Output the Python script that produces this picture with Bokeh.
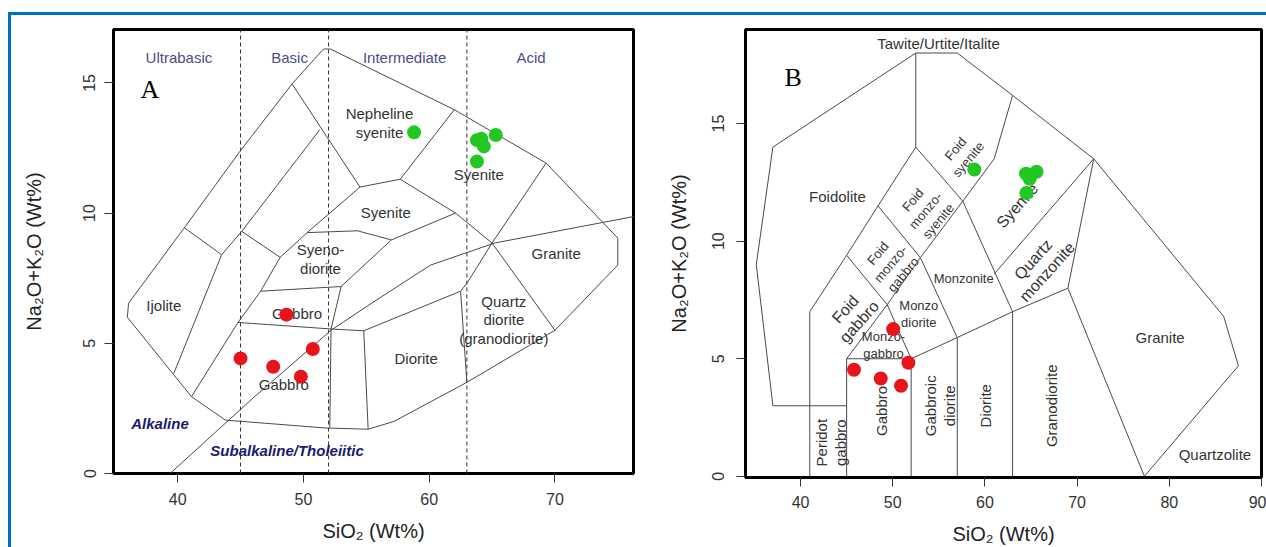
import math
from bokeh.plotting import figure
from bokeh.layouts import row, column
from bokeh.models import Range1d, FixedTicker, Spacer, ColumnDataSource
from bokeh.core.properties import value
from bokeh.embed import file_html
from bokeh.resources import INLINE

# ---------------- sample data ----------------
a_red_sio2 = [45.0, 47.6, 48.65, 49.8, 50.75]
a_red_alk = [4.42, 4.1, 6.1, 3.72, 4.78]
a_green_sio2 = [58.8, 63.8, 64.15, 64.35, 65.3, 63.8]
a_green_alk = [13.1, 12.8, 12.85, 12.56, 13.0, 11.98]

b_red_sio2 = [45.8, 48.7, 50.05, 50.9, 51.7]
b_red_alk = [4.53, 4.16, 6.26, 3.85, 4.83]
b_green_sio2 = [58.85, 64.45, 64.9, 65.6, 64.85, 64.5]
b_green_alk = [13.05, 12.87, 12.8, 12.95, 12.65, 12.05]

x_ticks_a = [40, 50, 60, 70]
x_ticks_b = [40, 50, 60, 70, 80, 90]
y_ticks = [0, 5, 10, 15]

# ---------------- field boundaries, panel A (Cox et al. 1979 / Wilson 1989) ----------------
a_fields = [
    [(75.0, 8.0), (75.0, 9.04), (69.3, 11.92), (62.0, 13.97), (52.15, 16.3), (51.6, 16.3),
     (49.1, 14.96), (45.0, 12.4), (40.6, 9.48), (36.1, 6.54), (36.0, 6.0), (41.1, 2.95),
     (43.8, 2.05), (51.7, 1.75), (55.15, 1.7), (57.2, 2.0), (63.0, 3.5), (70.0, 5.5), (75.0, 8.0)],
    [(49.1, 14.96), (54.5, 11.0)],
    [(54.5, 11.0), (57.7, 11.3), (62.0, 13.97)],
    [(57.7, 11.3), (62.1, 10.0), (65.0, 8.85)],
    [(69.3, 11.92), (65.0, 8.85), (63.0, 7.3)],
    [(65.0, 8.85), (70.0, 5.5)],
    [(63.0, 3.5), (62.5, 7.0), (63.0, 7.3)],
    [(54.8, 5.48), (62.5, 7.0)],
    [(54.8, 5.48), (55.15, 1.7)],
    [(44.8, 5.8), (52.2, 5.55), (54.8, 5.48)],
    [(53.0, 7.18), (52.2, 5.55), (52.1, 1.78)],
    [(50.3, 9.25), (54.3, 9.32), (57.0, 8.97), (62.1, 10.0)],
    [(57.0, 8.97), (53.0, 7.18)],
    [(46.6, 7.0), (53.0, 7.18)],
    [(54.5, 11.0), (50.3, 9.25), (48.15, 8.3)],
    [(48.15, 8.3), (46.6, 7.0), (44.8, 5.8), (41.1, 2.95)],
    [(51.3, 13.2), (45.1, 9.3), (43.5, 8.4)],
    [(45.1, 9.3), (48.15, 8.3)],
    [(40.5, 9.45), (43.5, 8.4)],
    [(43.5, 8.4), (39.7, 3.85)],
]
a_alkaline_divide = [(39.4, 0.0), (46.0, 2.9), (52.2, 5.5), (55.3, 6.5), (60.1, 8.0),
                     (65.2, 8.85), (76.3, 9.87)]
a_silica_limits = [45, 52, 63]

a_field_names = ["Nepheline\nsyenite", "Syenite", "Syenite", "Granite", "Syeno-\ndiorite",
                 "Ijolite", "Gabbro", "Gabbro", "Quartz\ndiorite\n(granodiorite)", "Diorite"]
a_field_x = [56.05, 63.95, 56.55, 70.1, 51.36, 38.9, 49.5, 48.44, 65.94, 58.97]
a_field_y = [13.45, 11.47, 10.04, 8.46, 8.23, 6.45, 6.15, 3.4, 5.9, 4.42]

a_class_names = ["Ultrabasic", "Basic", "Intermediate", "Acid"]
a_class_x = [40.1, 48.9, 58.05, 68.1]
a_class_y = [15.96, 15.96, 15.96, 15.96]

a_series_names = ["Alkaline", "Subalkaline/Tholeiitic"]
a_series_x = [38.6, 48.7]
a_series_y = [1.92, 0.9]

# ---------------- field boundaries, panel B (Middlemost 1994) ----------------
b_fields = [
    [(37.0, 3.0), (35.2, 9.0), (37.0, 14.0), (52.5, 18.0), (57.0, 18.0), (63.0, 16.2),
     (71.8, 13.5), (85.9, 6.8), (87.5, 4.7), (77.3, 0.0)],
    [(52.5, 18.0), (52.5, 14.0)],
    [(41.0, 7.0), (45.0, 9.4), (48.4, 11.5), (52.5, 14.0)],
    [(52.5, 14.0), (57.6, 11.7), (63.0, 7.0)],
    [(63.0, 16.2), (61.0, 13.5), (57.6, 11.7), (53.0, 9.3), (49.4, 7.3), (45.0, 5.0)],
    [(48.4, 11.5), (53.0, 9.3), (57.0, 5.9), (57.0, 0.0)],
    [(45.0, 9.4), (49.4, 7.3), (52.0, 5.0), (52.0, 0.0)],
    [(41.0, 7.0), (41.0, 0.0)],
    [(37.0, 3.0), (45.0, 3.0)],
    [(45.0, 0.0), (45.0, 5.0), (52.0, 5.0)],
    [(52.0, 5.0), (57.0, 5.9), (63.0, 7.0), (69.0, 8.0)],
    [(63.0, 0.0), (63.0, 7.0)],
    [(71.8, 13.5), (61.0, 8.6)],
    [(71.8, 13.5), (69.0, 8.0), (77.3, 0.0)],
]

b_flat_names = ["Tawite/Urtite/Italite", "Foidolite", "Granite", "Quartzolite"]
b_flat_x = [54.97, 44.0, 79.0, 84.95]
b_flat_y = [18.4, 11.9, 5.9, 0.94]

b_small_names = ["Monzonite", "Monzo\ndiorite", "Monzo-\ngabbro"]
b_small_x = [57.7, 52.83, 49.0]
b_small_y = [8.42, 6.91, 5.58]

b_tilt_small_names = ["Foid\nsyenite", "Foid\nmonzo-\nsyenite", "Foid\nmonzo-\ngabbro"]
b_tilt_small_x = [57.5, 53.56, 49.76]
b_tilt_small_y = [13.7, 11.3, 9.03]

b_tilt_names = ["Foid\ngabbro", "Syenite", "Quartz\nmonzonite"]
b_tilt_x = [45.6, 63.5, 66.0]
b_tilt_y = [6.84, 11.51, 8.96]

b_vert_names = ["Peridot\ngabbro", "Gabbro", "Gabbroic\ndiorite", "Diorite", "Granodiorite"]
b_vert_x = [43.3, 48.8, 55.15, 60.1, 67.2]
b_vert_y = [1.43, 2.78, 3.0, 3.0, 3.0]

FONT = value("Liberation Sans")
LINE = "#4a4a4a"
LABEL = "#333333"
RED = "#e8141c"
GREEN = "#22c722"


def style(p, xt, yt, ylab_standoff, ytick_standoff, xlab_standoff, xtick_standoff):
    p.xaxis.ticker = FixedTicker(ticks=xt)
    p.yaxis.ticker = FixedTicker(ticks=yt)
    for ax in (p.xaxis[0], p.yaxis[0]):
        ax.axis_line_color = None
        ax.major_tick_line_color = "#333333"
        ax.major_tick_line_width = 1
        ax.major_tick_out = 9
        ax.major_tick_in = 0
        ax.minor_tick_line_color = None
        ax.major_label_text_font = "Liberation Sans"
        ax.major_label_text_font_size = "16px"
        ax.major_label_text_color = "#333333"
        ax.axis_label_text_font = "Liberation Sans"
        ax.axis_label_text_font_size = "20px"
        ax.axis_label_text_font_style = "normal"
        ax.axis_label_text_color = "#222222"
    p.yaxis.major_label_orientation = "vertical"
    p.yaxis.axis_label_standoff = ylab_standoff
    p.yaxis.major_label_standoff = ytick_standoff
    p.xaxis.axis_label_standoff = xlab_standoff
    p.xaxis.major_label_standoff = xtick_standoff
    p.xgrid.visible = False
    p.ygrid.visible = False
    p.outline_line_color = "black"
    p.outline_line_width = 3
    p.background_fill_color = "white"
    p.border_fill_color = "white"


def polylines(p, lines, **kw):
    xs = [[v[0] for v in ln] for ln in lines]
    ys = [[v[1] for v in ln] for ln in lines]
    p.multi_line(xs=xs, ys=ys, **kw)


def labels(p, names, xs, ys, size, color=LABEL, angle=0.0, style="normal", font=FONT):
    src = ColumnDataSource(dict(x=xs, y=ys, text=names))
    p.text(x="x", y="y", text="text", source=src, angle=angle, text_align="center",
           text_baseline="middle", text_font=font, text_font_size=size,
           text_color=color, text_font_style=style, text_line_height=1.1)


# ---------------- panel A ----------------
pA = figure(frame_width=520, frame_height=444, x_range=Range1d(34.9, 76.25),
            y_range=Range1d(0.0, 17.05), output_backend="svg", toolbar_location=None,
            min_border_left=102, min_border_right=7, min_border_top=10, min_border_bottom=78,
            x_axis_label="SiO\u2082 (Wt%)", y_axis_label="Na\u2082O+K\u2082O (Wt%)")
style(pA, x_ticks_a, y_ticks, 36, 9, 12, 10)

for xv in a_silica_limits:
    pA.line([xv, xv], [0.0, 17.05], line_color="#333333", line_width=1, line_dash="4 3")
polylines(pA, a_fields, line_color=LINE, line_width=1)
polylines(pA, [a_alkaline_divide], line_color=LINE, line_width=1)

labels(pA, a_field_names, a_field_x, a_field_y, "15px")
labels(pA, a_class_names, a_class_x, a_class_y, "15px", color="#4d4d85")
labels(pA, a_series_names, a_series_x, a_series_y, "15px", color="#1b1b6f", style="bold italic")
labels(pA, ["A"], [37.8], [14.74], "26px", color="black", font=value("Liberation Serif"))

pA.scatter(a_red_sio2, a_red_alk, size=14, fill_color=RED, line_color=None)
pA.scatter(a_green_sio2, a_green_alk, size=14, fill_color=GREEN, line_color=None)

# ---------------- panel B ----------------
pB = figure(frame_width=516, frame_height=448, x_range=Range1d(34.03, 90.0),
            y_range=Range1d(-0.05, 19.0), output_backend="svg", toolbar_location=None,
            min_border_left=105, min_border_right=5, min_border_top=14, min_border_bottom=70,
            x_axis_label="SiO\u2082 (Wt%)", y_axis_label="Na\u2082O+K\u2082O (Wt%)")
style(pB, x_ticks_b, y_ticks, 20, 12, 12, 9)

polylines(pB, b_fields, line_color=LINE, line_width=1)

labels(pB, b_flat_names, b_flat_x, b_flat_y, "15px")
labels(pB, b_small_names, b_small_x, b_small_y, "13px")
labels(pB, b_tilt_small_names, b_tilt_small_x, b_tilt_small_y, "13px", angle=math.radians(50))
labels(pB, b_tilt_names, b_tilt_x, b_tilt_y, "16px", angle=math.radians(48))
labels(pB, b_vert_names, b_vert_x, b_vert_y, "15px", angle=math.pi / 2)
labels(pB, ["B"], [39.2], [16.96], "26px", color="black", font=value("Liberation Serif"))

pB.scatter(b_red_sio2, b_red_alk, size=14, fill_color=RED, line_color=None)
pB.scatter(b_green_sio2, b_green_alk, size=14, fill_color=GREEN, line_color=None)

# ---------------- page frame ----------------
BLUE = "#0070c0"
top_gap = Spacer(width=1266, height=12)
top_bar = Spacer(width=1258, height=3, styles={"background-color": BLUE})
left_bar = Spacer(width=3, height=532, styles={"background-color": BLUE})
left_gap = Spacer(width=8, height=535)
inner = column(top_bar, row(left_bar, pA, pB))
layout = column(top_gap, row(left_gap, inner))

open("out.html", "w").write(file_html(layout, INLINE))
